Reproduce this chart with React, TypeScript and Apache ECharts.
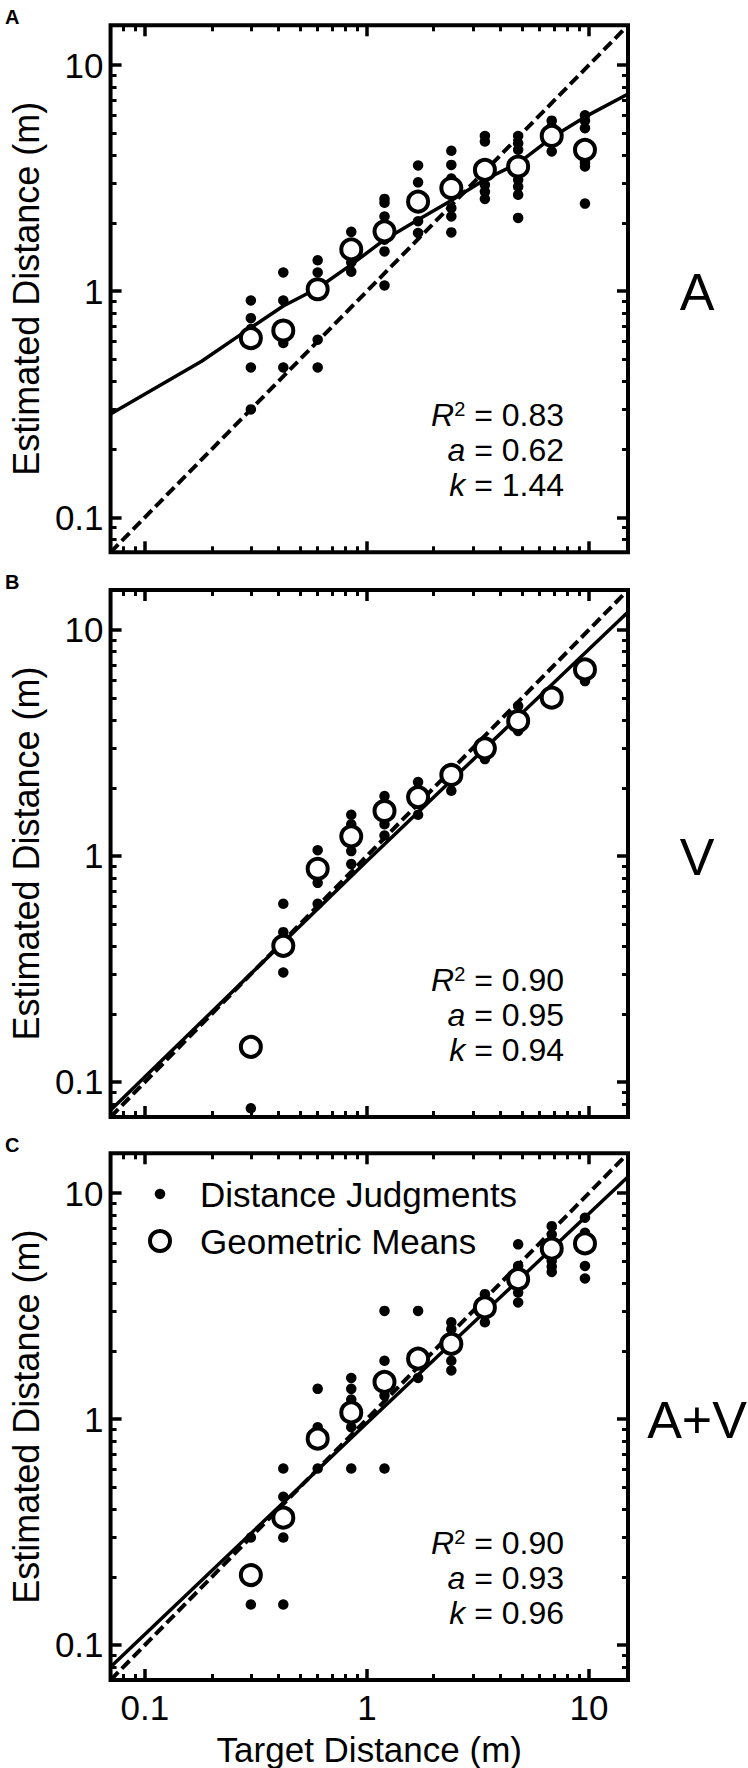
import React, { useEffect, useRef } from 'react';
import * as echarts from 'echarts';

// ---------------- DATA ----------------
const targetDistances = [0.3, 0.42, 0.6, 0.85, 1.2, 1.7, 2.4, 3.4, 4.8, 6.8, 9.6];

const meansA = [0.62, 0.67, 1.02, 1.53, 1.84, 2.49, 2.86, 3.44, 3.56, 4.86, 4.22];
const meansV = [0.143, 0.4, 0.877, 1.22, 1.58, 1.82, 2.28, 2.99, 3.95, 5.01, 6.68];
const meansAV = [0.204, 0.366, 0.819, 1.07, 1.46, 1.85, 2.15, 3.12, 4.16, 5.68, 5.99];

const judgmentsA = [
  [0.91, 0.76, 0.68, 0.46, 0.3],
  [1.21, 0.91, 0.59, 0.46],
  [1.37, 1.21, 0.61, 0.46],
  [1.83, 1.34, 1.22],
  [2.56, 2.46, 2.14, 1.69, 1.5, 1.06],
  [3.6, 3.03, 2.04, 1.81],
  [4.18, 3.62, 3.15, 2.33, 2.14, 1.82],
  [4.86, 4.59, 2.95, 2.76, 2.56],
  [4.86, 4.51, 4.22, 3.11, 2.9, 2.67, 2.11],
  [5.68, 5.35, 4.15],
  [6.0, 5.68, 5.26, 3.69, 3.56, 2.44],
];
const judgmentsV = [
  [0.0765],
  [0.614, 0.46, 0.305],
  [1.06, 0.76, 0.614],
  [1.52, 1.38, 1.05, 0.92],
  [1.84, 1.71, 1.38, 1.23],
  [2.12, 1.93, 1.52],
  [2.12, 1.94],
  [2.68],
  [4.6, 3.57],
  [],
  [5.93],
];
const judgmentsAV = [
  [0.299, 0.151],
  [0.604, 0.453, 0.299, 0.151],
  [1.36, 0.92, 0.604],
  [1.52, 1.36, 1.22, 0.92, 0.604],
  [3.01, 1.81, 1.27, 0.604],
  [3.01, 1.52],
  [2.68, 2.5, 1.81, 1.64],
  [3.57, 2.68],
  [5.93, 4.76, 3.63, 3.28],
  [7.14, 6.56, 5.01, 4.73, 4.48],
  [7.78, 6.68, 4.76, 4.19],
];

const fitAX = [0.07, 0.18, 0.3, 0.42, 0.6, 0.85, 1.2, 1.7, 2.4, 3.4, 4.8, 6.8, 9.6, 15];
const fitAY = [0.286, 0.49, 0.69, 0.86, 1.03, 1.31, 1.69, 2.07, 2.52, 3.12, 3.68, 4.78, 5.9, 7.45];
const fitVX = [0.07, 1, 15];
const fitVY = [0.075, 0.95, 12.0];
const fitAVX = [0.07, 1, 15];
const fitAVY = [0.08, 0.96, 11.8];
const unityLine = [0.07, 15];

const axisMin = 0.07;
const axisMax = 15;
const majorTicks = [0.1, 1, 10];
const minorTicks = [0.08, 0.09, 0.2, 0.3, 0.4, 0.5, 0.6, 0.7, 0.8, 0.9, 2, 3, 4, 5, 6, 7, 8, 9];

const panelLetters = ['A', 'B', 'C'];
const conditionLabels = ['A', 'V', 'A+V'];
const r2Values = ['0.83', '0.90', '0.90'];
const aValues = ['0.62', '0.95', '0.93'];
const kValues = ['1.44', '0.94', '0.96'];

const legendNames = ['Distance Judgments', 'Geometric Means'];
const xAxisTitle = 'Target Distance (m)';
const yAxisTitle = 'Estimated Distance (m)';

// ---------------- LAYOUT ----------------
const FONT = "'Liberation Sans', Arial, Helvetica, sans-serif";
const GRID_LEFT = 102;
const GRID_W = 526;
const GRID_H = 527;
const panelTops = [25.3, 590, 1153.3];

const panels = [
  { means: meansA, judgments: judgmentsA, fitX: fitAX, fitY: fitAY },
  { means: meansV, judgments: judgmentsV, fitX: fitVX, fitY: fitVY },
  { means: meansAV, judgments: judgmentsAV, fitX: fitAVX, fitY: fitAVY },
];

const fmt = (v: number) => (v >= 1 ? String(Math.round(v)) : String(v));

function buildOption() {
  const grid: any[] = [];
  const xAxis: any[] = [];
  const yAxis: any[] = [];
  const series: any[] = [];
  const graphic: any[] = [];

  panels.forEach((p, i) => {
    const top = panelTops[i];
    grid.push({
      left: GRID_LEFT,
      top,
      width: GRID_W,
      height: GRID_H,
      show: true,
      borderColor: '#000',
      borderWidth: 4,
      backgroundColor: 'transparent',
      containLabel: false,
    });
    const base = {
      type: 'log',
      logBase: 10,
      min: axisMin,
      max: axisMax,
      gridIndex: i,
      axisLine: { show: false, onZero: false },
      splitLine: { show: false },
      splitArea: { show: false },
      silent: true,
    };
    const majorTick = { show: true, inside: true, length: 11, customValues: majorTicks, lineStyle: { color: '#000', width: 3.5 } };
    const minorTick = { show: true, inside: true, length: 6, customValues: minorTicks, lineStyle: { color: '#000', width: 3 } };
    const isLast = i === 2;
    xAxis.push(
      {
        ...base,
        position: 'bottom',
        axisTick: majorTick,
        axisLabel: { show: isLast, customValues: majorTicks, formatter: fmt, fontSize: 35, color: '#000', fontFamily: FONT, margin: 10 },
        name: isLast ? xAxisTitle : '',
        nameLocation: 'middle',
        nameGap: 52,
        nameTextStyle: { fontSize: 35, color: '#000', fontFamily: FONT },
      },
      { ...base, position: 'bottom', axisTick: minorTick, axisLabel: { show: false } },
      { ...base, position: 'top', axisTick: majorTick, axisLabel: { show: false } },
      { ...base, position: 'top', axisTick: minorTick, axisLabel: { show: false } }
    );
    yAxis.push(
      {
        ...base,
        position: 'left',
        axisTick: majorTick,
        axisLabel: { show: true, customValues: majorTicks, formatter: fmt, fontSize: 35, color: '#000', fontFamily: FONT, margin: 7 },
        name: yAxisTitle,
        nameLocation: 'middle',
        nameRotate: 90,
        nameGap: 65,
        nameTextStyle: { fontSize: 36, color: '#000', fontFamily: FONT },
      },
      { ...base, position: 'left', axisTick: minorTick, axisLabel: { show: false } },
      { ...base, position: 'right', axisTick: majorTick, axisLabel: { show: false } },
      { ...base, position: 'right', axisTick: minorTick, axisLabel: { show: false } }
    );

    const xi = i * 4;
    series.push(
      {
        type: 'line',
        xAxisIndex: xi,
        yAxisIndex: xi,
        data: unityLine.map((v) => [v, v]),
        symbol: 'none',
        silent: true,
        z: 2,
        lineStyle: { color: '#000', width: 4, type: [11, 5], opacity: 1 },
      },
      {
        type: 'line',
        xAxisIndex: xi,
        yAxisIndex: xi,
        data: p.fitX.map((x, k) => [x, p.fitY[k]]),
        symbol: 'none',
        silent: true,
        z: 2,
        lineStyle: { color: '#000', width: 3.5, type: 'solid', opacity: 1 },
      },
      {
        type: 'scatter',
        name: legendNames[0],
        xAxisIndex: xi,
        yAxisIndex: xi,
        data: targetDistances.flatMap((t, k) => p.judgments[k].map((y) => [t, y])),
        symbol: 'circle',
        symbolSize: 10.5,
        itemStyle: { color: '#000', opacity: 1 },
        z: 3,
      },
      {
        type: 'scatter',
        name: legendNames[1],
        xAxisIndex: xi,
        yAxisIndex: xi,
        data: targetDistances.map((t, k) => [t, p.means[k]]),
        symbol: 'circle',
        symbolSize: 20,
        itemStyle: { color: '#fff', borderColor: '#000', borderWidth: 4, opacity: 1 },
        z: 4,
      }
    );

    // Panel letter
    graphic.push({
      type: 'text',
      x: 5,
      y: top - 8,
      style: {
        text: panelLetters[i],
        fill: '#000',
        font: `bold 20px ${FONT}`,
        align: 'left',
        verticalAlign: 'middle',
      },
    });
    // Condition label
    graphic.push({
      type: 'text',
      x: 697,
      y: top + 267,
      style: {
        text: conditionLabels[i],
        fill: '#000',
        font: `52px ${FONT}`,
        align: 'center',
        verticalAlign: 'middle',
      },
    });
    // Stats
    const rich = {
      i: { fontStyle: 'italic', fontSize: 32, fontFamily: FONT, fill: '#000' },
      s: { fontSize: 20, fontFamily: FONT, fill: '#000', verticalAlign: 'top', lineHeight: 20 },
      n: { fontSize: 32, fontFamily: FONT, fill: '#000' },
    };
    const lines = [
      `{i|R}{s|2}{n| = ${r2Values[i]}}`,
      `{i|a}{n| = ${aValues[i]}}`,
      `{i|k}{n| = ${kValues[i]}}`,
    ];
    lines.forEach((txt, li) => {
      graphic.push({
        type: 'text',
        x: 564,
        y: top + 390 + li * 35,
        style: {
          text: txt,
          rich,
          fill: '#000',
          font: `32px ${FONT}`,
          align: 'right',
          verticalAlign: 'middle',
        },
      });
    });
  });

  const legendTextStyle = { fontSize: 35, color: '#000', fontFamily: FONT };
  const legend = [
    {
      data: [{ name: legendNames[0], icon: 'circle', itemStyle: { color: '#000', opacity: 1 } }],
      left: 154.75,
      top: 1176.5,
      padding: 0,
      itemWidth: 70,
      itemHeight: 10.5,
      itemGap: 0,
      selectedMode: false,
      textStyle: legendTextStyle,
    },
    {
      data: [
        {
          name: legendNames[1],
          icon: 'circle',
          itemStyle: { color: '#fff', borderColor: '#000', borderWidth: 4, opacity: 1 },
        },
      ],
      left: 148,
      top: 1223.5,
      padding: 0,
      itemWidth: 70,
      itemHeight: 20,
      itemGap: 0,
      selectedMode: false,
      textStyle: legendTextStyle,
    },
  ];

  return {
    animation: false,
    backgroundColor: '#fff',
    textStyle: { fontFamily: FONT },
    grid,
    xAxis,
    yAxis,
    series,
    legend,
    graphic,
  };
}

export default function App() {
  const ref = useRef<HTMLDivElement>(null);
  useEffect(() => {
    if (!ref.current) return;
    const chart = echarts.init(ref.current, undefined, { renderer: 'svg' });
    chart.setOption(buildOption() as any);
    return () => chart.dispose();
  }, []);
  return (
    <div
      ref={ref}
      style={{ position: 'absolute', left: 0, top: 0, width: 748, height: 1768 }}
    />
  );
}
